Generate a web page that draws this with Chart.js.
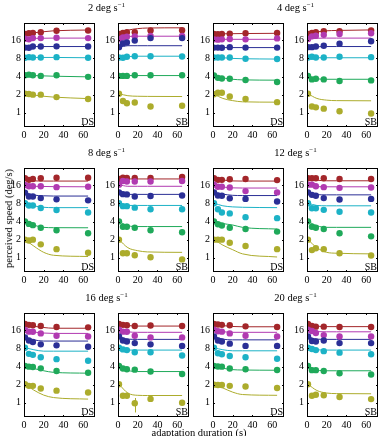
<!DOCTYPE html>
<html>
<head>
<meta charset="utf-8">
<script src="https://cdn.jsdelivr.net/npm/chart.js@4/dist/chart.umd.min.js"></script>
<style>
  html, body { margin:0; padding:0; background:#fff; }
  body { width:383px; height:436px; position:relative; overflow:hidden; font-family:"Liberation Serif", serif; color:#000; }
  canvas { position:absolute; }
  .ttl { position:absolute; font-size:10.5px; transform:translateX(-50%); white-space:nowrap; line-height:1; }
  .ttl sup { font-size:7px; vertical-align:4px; line-height:0; }
  .ylab { position:absolute; font-size:10.5px; white-space:nowrap; transform-origin:center; }
  .xlab { position:absolute; font-size:10.5px; white-space:nowrap; transform:translateX(-50%); line-height:1; }
</style>
</head>
<body>
<script>
// ---------------- data ----------------
const durations = [1, 5, 9, 17, 33, 65];          // adaptation duration (s) of measured points
const fitDurations = [1, 10, 20, 30, 65];         // points
const xTicks = [0, 20, 40, 60];
const yTicks = [1, 2, 4, 8, 16];
const testSpeeds = ['2', '4', '8', '12', '16', '20'];   // series: olive, green, cyan, blue, magenta, red
const adaptSpeeds = ['2', '4', '8', '12', '16', '20'];  // panel-pair titles (deg s^-1)
const panelLabels = ['DS', 'SB', 'DS', 'SB', 'DS', 'SB', 'DS', 'SB', 'DS', 'SB', 'DS', 'SB'];

// measured perceived speeds (deg/s), one row per test speed
const dots2DS = [[2.07,2.05,2.0,2.0,1.82,1.69],[4.2,4.3,4.2,4.1,4.2,3.95],[8.2,8.4,8.3,8.3,8.4,8.2],[12.1,12.0,12.6,12.6,12.7,12.6],[17.0,16.6,17.4,17.4,17.6,17.4],[20.4,20.9,21.2,21.7,23.0,23.3]];
const fit2DS  = [[2.07,1.97,1.88,1.82,1.72],[4.2,4.15,4.1,4.05,3.95],[8.3,8.3,8.3,8.3,8.2],[12.4,12.6,12.6,12.6,12.6],[16.9,17.2,17.3,17.4,17.4],[20.4,21.3,22.2,23.0,23.7]];
const dots2SB = [[2.07,1.57,1.44,1.48,1.27,1.31],[4.1,4.1,4.1,4.2,4.2,4.2],[8.3,8.2,8.5,8.7,8.7,8.6],[12.3,14.2,14.7,15.8,17.4,17.4],[16.8,17.8,18.4,18.6,18.8,18.8],[20.4,21.2,21.7,21.7,23.3,23.6]];
const fit2SB  = [[2.07,1.92,1.88,1.87,1.86],[4.15,4.15,4.15,4.15,4.15],[8.3,8.6,8.7,8.7,8.7],[12.3,13.0,13.0,13.0,13.0],[16.8,18.5,18.7,18.7,18.7],[20.4,23.5,25.0,25.6,25.8]];
const dots4DS = [[2.03,2.15,2.15,1.86,1.69,1.5],[4.15,3.8,3.7,3.67,3.5,3.25],[8.3,8.3,8.3,8.3,7.9,7.8],[12.1,12.1,12.0,12.3,12.1,12.1],[16.6,16.4,16.6,16.8,16.6,17.2],[20.4,20.2,20.4,20.6,20.9,21.2]];
const fit4DS  = [[2.03,1.73,1.59,1.52,1.5],[4.15,3.8,3.6,3.52,3.48],[8.3,8.2,8.0,7.9,7.8],[12.1,12.1,12.1,12.1,12.1],[16.6,16.6,16.6,16.6,16.6],[20.4,20.5,20.6,20.7,20.9]];
const dots4SB = [[2.07,1.27,1.23,1.17,1.06,0.97],[4.1,3.58,3.67,3.58,3.37,3.45],[8.3,8.5,8.3,8.3,8.5,8.4],[12.3,12.3,12.6,13.0,14.0,15.4],[16.8,18.6,19.0,19.7,20.4,20.9],[20.4,21.2,21.7,22.6,22.6,23.3]];
const fit4SB  = [[2.07,1.73,1.62,1.59,1.58],[4.1,3.67,3.6,3.6,3.6],[8.2,8.2,8.2,8.2,8.2],[12.3,12.5,12.6,12.6,12.6],[16.8,17.3,17.4,17.4,17.4],[20.2,22.0,23.0,23.3,23.8]];
const dots8DS = [[2.0,1.93,2.0,1.67,1.39,1.21],[4.03,3.65,3.48,3.16,2.86,2.56],[8.07,7.4,7.4,6.7,6.2,5.66],[12.1,10.4,10.4,9.8,9.35,9.0],[16.2,15.4,15.4,15.4,14.9,15.1],[20.9,19.7,20.4,20.9,21.4,21.4]];
const fit8DS  = [[2.0,1.56,1.23,1.10,1.05],[4.03,3.48,3.2,3.16,3.15],[8.07,7.3,6.9,6.8,6.8],[12.1,11.0,10.7,10.6,10.6],[16.2,15.4,15.3,15.2,15.1],[20.9,19.0,18.8,18.8,18.8]];
const dots8SB = [[2.0,1.19,1.19,1.10,1.02,0.94],[4.03,3.27,3.27,3.16,2.86,2.66],[8.07,7.2,7.2,6.8,6.4,6.4],[12.2,11.4,11.3,10.4,10.6,10.8],[16.4,18.8,18.5,18.5,18.5,18.8],[20.4,21.4,21.2,21.2,21.2,22.0]];
const fit8SB  = [[2.0,1.47,1.31,1.25,1.23],[4.03,3.4,3.3,3.3,3.3],[8.07,7.4,7.4,7.4,7.4],[12.2,11.3,11.3,11.3,11.3],[16.4,15.4,15.4,15.4,15.4],[20.4,20.4,20.4,20.4,20.4]];
const dots12DS = [[2.0,2.0,2.0,1.78,1.57,1.39],[4.03,3.6,3.44,3.16,3.0,2.72],[8.07,6.4,5.66,5.46,4.73,4.55],[12.2,10.8,10.7,9.7,9.5,8.6],[16.4,15.1,15.1,14.7,12.8,12.2],[20.9,19.7,19.7,20.2,20.4,19.5]];
const fit12DS  = [[2.0,1.62,1.36,1.16,1.03],[4.03,3.7,3.5,3.2,3.0],[8.07,7.3,7.0,6.9,6.8],[12.2,11.4,10.9,10.8,10.8],[16.4,15.0,14.5,14.4,14.4],[20.9,19.6,18.9,18.8,18.8]];
const dots12SB = [[2.0,1.34,1.44,1.39,1.19,1.09],[4.03,3.27,3.16,3.0,2.56,2.27],[8.07,6.65,6.65,6.25,5.8,5.66],[12.2,11.1,10.7,9.8,9.3,9.5],[16.4,16.4,15.4,14.9,14.5,14.7],[20.9,20.9,20.9,20.9,20.4,20.4]];
const fit12SB  = [[2.0,1.47,1.23,1.19,1.16],[4.03,3.4,3.2,3.2,3.2],[8.07,7.4,7.3,7.3,7.3],[12.2,11.2,11.1,11.1,11.1],[16.4,15.2,15.1,15.1,15.1],[20.9,19.5,19.0,19.0,19.0]];
const dots16DS = [[2.03,1.91,1.91,1.73,1.59,1.48],[4.08,3.98,3.92,3.73,3.38,3.15],[8.2,6.5,6.25,5.7,5.3,5.0],[12.2,10.8,10.2,9.35,9.0,8.5],[16.2,15.2,15.1,14.2,13.0,12.6],[20.4,19.7,19.4,18.8,18.1,17.9]];
const fit16DS  = [[2.03,1.62,1.34,1.22,1.15],[4.08,3.7,3.4,3.2,3.1],[8.2,7.6,7.2,7.2,7.2],[12.2,11.1,10.6,10.6,10.6],[16.2,15.0,14.4,14.2,14.2],[20.4,18.7,17.8,17.3,17.3]];
const dots16SB = [[2.03,1.31,1.31,0.98,1.16,1.0],[4.08,3.7,3.6,3.55,3.3,3.0],[8.2,7.7,7.5,6.9,6.9,6.1],[12.6,10.8,10.4,9.8,9.35,8.8],[16.4,15.2,15.1,13.0,12.2,12.2],[20.4,19.7,19.4,18.8,19.2,18.8]];
const fit16SB  = [[2.03,1.45,1.33,1.32,1.32],[4.08,3.45,3.3,3.3,3.3],[8.2,7.5,7.5,7.5,7.5],[12.6,11.4,11.3,11.3,11.3],[16.4,15.1,14.8,14.8,14.8],[20.4,19.2,18.8,18.8,18.8]];
const dots20DS = [[2.0,1.97,1.97,1.91,1.86,1.76],[4.08,4.0,3.98,3.7,3.6,3.5],[8.2,6.65,6.4,6.0,5.7,5.4],[12.6,10.8,10.4,9.6,8.8,8.8],[16.4,15.4,15.2,14.2,13.0,12.6],[20.4,20.0,19.7,19.4,18.6,18.1]];
const fit20DS  = [[2.0,1.76,1.5,1.37,1.33],[4.08,3.75,3.55,3.5,3.47],[8.2,7.6,7.3,7.3,7.3],[12.6,11.4,11.1,11.1,11.1],[16.4,15.2,14.8,14.8,14.8],[20.4,19.2,18.5,18.3,18.3]];
const dots20SB = [[2.03,1.31,1.36,1.33,1.25,1.15],[4.08,3.48,3.48,3.38,3.1,2.95],[8.2,7.8,7.5,7.2,6.8,6.4],[12.6,10.6,10.4,10.8,9.8,9.8],[16.4,15.6,14.4,13.3,12.6,12.6],[20.4,18.8,18.4,18.4,18.1,18.1]];
const fit20SB  = [[2.03,1.6,1.45,1.42,1.41],[4.08,3.5,3.4,3.4,3.4],[8.2,7.6,7.5,7.5,7.5],[12.6,11.4,11.3,11.3,11.3],[16.4,15.2,15.1,15.1,15.1],[20.4,18.8,18.4,18.4,18.4]];

// visible error bars: [panel index, series index, point index, low, high]
const errorBars = [
  [2, 1, 3, 3.4, 3.95], [2, 4, 5, 16.2, 18.2],
  [4, 4, 4, 14.0, 15.9],
  [8, 0, 3, 1.6, 1.88], [8, 0, 4, 1.48, 1.72], [8, 0, 5, 1.38, 1.6], [8, 3, 3, 8.7, 10.0], [8, 3, 5, 7.9, 9.1],
  [9, 0, 3, 0.69, 1.2],
  [10, 0, 3, 1.75, 2.08], [10, 0, 4, 1.7, 2.02], [10, 0, 5, 1.6, 1.95], [10, 1, 3, 3.45, 3.95]
];

// ---------------- layout / style ----------------
const seriesColors = ['#acac2c', '#1fa95a', '#1cb2c6', '#2b2f96', '#b13ab1', '#a3262a'];
const panelDots = [dots2DS, dots2SB, dots4DS, dots4SB, dots8DS, dots8SB, dots12DS, dots12SB, dots16DS, dots16SB, dots20DS, dots20SB];
const panelFits = [fit2DS, fit2SB, fit4DS, fit4SB, fit8DS, fit8SB, fit12DS, fit12SB, fit16DS, fit16SB, fit20DS, fit20SB];
const colLefts = [24, 118, 213, 307];
const rowTops = [18, 163, 308];
const PW = 71, PH = 109;
const FONT = '"Liberation Serif", serif';

const boxPlugin = {
  id: 'box',
  beforeDatasetsDraw(chart) {
    const {ctx, scales} = chart;
    const idx = chart.options.plugins.box.panel;
    ctx.save();
    ctx.lineWidth = 1;
    errorBars.filter(e => e[0] === idx).forEach(e => {
      const px = Math.round(scales.x.getPixelForValue(durations[e[2]])) + 0.5;
      ctx.strokeStyle = seriesColors[e[1]];
      ctx.beginPath();
      ctx.moveTo(px, scales.y.getPixelForValue(e[3]));
      ctx.lineTo(px, scales.y.getPixelForValue(e[4]));
      ctx.stroke();
    });
    ctx.restore();
  },
  afterDatasetsDraw(chart) {
    const {ctx, chartArea: a, scales} = chart;
    ctx.save();
    ctx.strokeStyle = '#000';
    ctx.lineWidth = 1;
    ctx.strokeRect(Math.round(a.left) + 0.5, Math.round(a.top) + 0.5, Math.round(a.right - a.left) - 1, Math.round(a.bottom - a.top) - 1);
    ctx.beginPath();
    xTicks.forEach(v => {
      const px = Math.round(scales.x.getPixelForValue(v)) + 0.5;
      ctx.moveTo(px, a.bottom); ctx.lineTo(px, a.bottom - 2);
      ctx.moveTo(px, a.top); ctx.lineTo(px, a.top + 2);
    });
    yTicks.forEach(v => {
      const py = Math.round(scales.y.getPixelForValue(v)) + 0.5;
      ctx.moveTo(a.left, py); ctx.lineTo(a.left + 2, py);
      ctx.moveTo(a.right, py); ctx.lineTo(a.right - 2, py);
    });
    ctx.stroke();
    ctx.fillStyle = '#000';
    ctx.font = '10px ' + FONT;
    ctx.textAlign = 'right';
    ctx.textBaseline = 'bottom';
    ctx.fillText(chart.options.plugins.box.label, a.right - 1, a.bottom);
    ctx.restore();
  }
};

function makePanel(i) {
  const col = i % 4, row = Math.floor(i / 4);
  const L = colLefts[col], T = rowTops[row];
  const cv = document.createElement('canvas');
  const cw = PW + 24 + 4, ch = PH + 4 + 16;
  cv.width = cw; cv.height = ch;
  cv.style.left = (L - 24) + 'px';
  cv.style.top = (T - 4) + 'px';
  cv.style.width = cw + 'px'; cv.style.height = ch + 'px';
  document.body.appendChild(cv);

  const datasets = [];
  panelFits[i].forEach((vals, s) => {
    datasets.push({
      type: 'line', showLine: true, order: 2,
      data: vals.map((v, k) => ({x: fitDurations[k], y: v})),
      borderColor: seriesColors[s], borderWidth: 1, pointRadius: 0,
      cubicInterpolationMode: 'monotone', fill: false
    });
  });
  panelDots[i].forEach((vals, s) => {
    datasets.push({
      type: 'scatter', order: 1, label: testSpeeds[s],
      data: vals.map((v, k) => ({x: durations[k], y: v})),
      backgroundColor: seriesColors[s], borderColor: seriesColors[s], borderWidth: 0,
      pointRadius: 3.2
    });
  });

  new Chart(cv, {
    type: 'scatter',
    data: {datasets},
    options: {
      responsive: false, animation: false, devicePixelRatio: 1,
      layout: {padding: {top: 4, right: 4, left: 0, bottom: 0}},
      plugins: {legend: {display: false}, tooltip: {enabled: false}, box: {label: panelLabels[i], panel: i}},
      scales: {
        x: {
          type: 'linear', min: 0, max: 72,
          grid: {display: false, drawTicks: false}, border: {display: false},
          ticks: {color: '#000', font: {family: FONT, size: 10}, padding: 2, maxRotation: 0, autoSkip: false},
          afterBuildTicks: s => { s.ticks = xTicks.map(v => ({value: v})); },
          afterFit: s => { s.height = 16; }
        },
        y: {
          type: 'logarithmic', min: 0.58, max: 31,
          grid: {display: false, drawTicks: false}, border: {display: false},
          ticks: {color: '#000', font: {family: FONT, size: 10}, padding: 3, autoSkip: false, callback: v => String(v)},
          afterBuildTicks: s => { s.ticks = yTicks.map(v => ({value: v})); },
          afterFit: s => { s.width = 24; }
        }
      }
    },
    plugins: [boxPlugin]
  });
}

for (let i = 0; i < 12; i++) makePanel(i);

// titles
const titleY = [3, 148, 293];
const titleX = [106.5, 295.5];
adaptSpeeds.forEach((sp, k) => {
  const d = document.createElement('div');
  d.className = 'ttl';
  d.innerHTML = sp + ' deg s<sup>\u22121</sup>';
  d.style.left = titleX[k % 2] + 'px';
  d.style.top = titleY[Math.floor(k / 2)] + 'px';
  document.body.appendChild(d);
});
const yl = document.createElement('div');
yl.className = 'ylab';
yl.textContent = 'perceived speed (deg/s)';
document.body.appendChild(yl);
const w = yl.offsetWidth, h = yl.offsetHeight;
yl.style.left = (8 - w / 2) + 'px';
yl.style.top = (218 - h / 2) + 'px';
yl.style.transform = 'rotate(-90deg)';
const xl = document.createElement('div');
xl.className = 'xlab';
xl.textContent = 'adaptation duration (s)';
xl.style.left = '199px';
xl.style.top = '428px';
document.body.appendChild(xl);
</script>
</body>
</html>
